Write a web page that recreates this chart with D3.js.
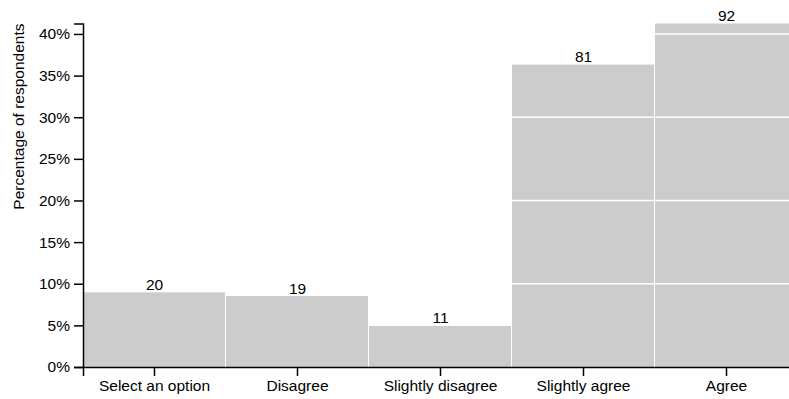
<!DOCTYPE html>
<html>
<head>
<meta charset="utf-8">
<script src="https://cdn.jsdelivr.net/npm/d3@7/dist/d3.min.js"></script>
<style>
  html, body { margin: 0; padding: 0; background: #fff; overflow: hidden; }
  svg { display: block; }
  text { font-family: "Liberation Sans", Arial, Helvetica, sans-serif; }
</style>
</head>
<body>
<svg id="chart" width="810" height="399"></svg>
<script>
const categories = ["Select an option", "Disagree", "Slightly disagree", "Slightly agree", "Agree"];
const counts = [20, 19, 11, 81, 92];
const yTickValues = [0, 0.05, 0.10, 0.15, 0.20, 0.25, 0.30, 0.35, 0.40];
const gridValues = [0.10, 0.20, 0.30, 0.40];
const yTitle = "Percentage of respondents";

const total = d3.sum(counts);
const data = categories.map((c, i) => ({ cat: c, count: counts[i], pct: counts[i] / total }));

const svg = d3.select("#chart");
const mLeft = 83, mRight = 798, mTop = 23.5, mBottom = 367;
const fontSize = "15.5px";

const x = d3.scaleBand().domain(categories).range([mLeft, mRight]).padding(0);
const y = d3.scaleLinear().domain([0, d3.max(data, d => d.pct)]).range([mBottom, mTop]);

// bars
svg.append("g").selectAll("rect").data(data).join("rect")
  .attr("x", d => x(d.cat))
  .attr("y", d => y(d.pct))
  .attr("width", x.bandwidth() - 1)
  .attr("height", d => mBottom - y(d.pct))
  .attr("fill", "#cccccc");

// white gridlines over bars
svg.append("g").selectAll("line").data(gridValues).join("line")
  .attr("x1", mLeft).attr("x2", mRight)
  .attr("y1", d => y(d)).attr("y2", d => y(d))
  .attr("stroke", "#fff").attr("stroke-width", 1.6);

// value labels
svg.append("g").selectAll("text").data(data).join("text")
  .attr("x", d => x(d.cat) + x.bandwidth() / 2)
  .attr("y", d => y(d.pct) - 2.5)
  .attr("text-anchor", "middle")
  .style("font-size", fontSize)
  .attr("fill", "#000")
  .text(d => d.count);

// y axis
const yAxis = svg.append("g").attr("transform", `translate(${mLeft},0)`)
  .call(d3.axisLeft(y).tickValues(yTickValues).tickFormat(d3.format(".0%")).tickSize(9).tickSizeOuter(9).tickPadding(4));

// x axis
const xAxis = svg.append("g").attr("transform", `translate(0,${mBottom})`)
  .call(d3.axisBottom(x).tickSize(9).tickSizeOuter(9).tickPadding(4));

[yAxis, xAxis].forEach(g => {
  g.selectAll("text").style("font-size", fontSize).attr("fill", "#000")
    .style("font-family", "\"Liberation Sans\", Arial, Helvetica, sans-serif");
  g.selectAll("line").attr("stroke", "#000").attr("stroke-width", 1.5);
  g.select(".domain").attr("stroke", "#000").attr("stroke-width", 1.5);
});

// y title
svg.append("text")
  .attr("transform", `translate(23.5,${mTop}) rotate(-90)`)
  .attr("text-anchor", "end")
  .style("font-size", fontSize)
  .attr("fill", "#000")
  .text(yTitle);
</script>
</body>
</html>
